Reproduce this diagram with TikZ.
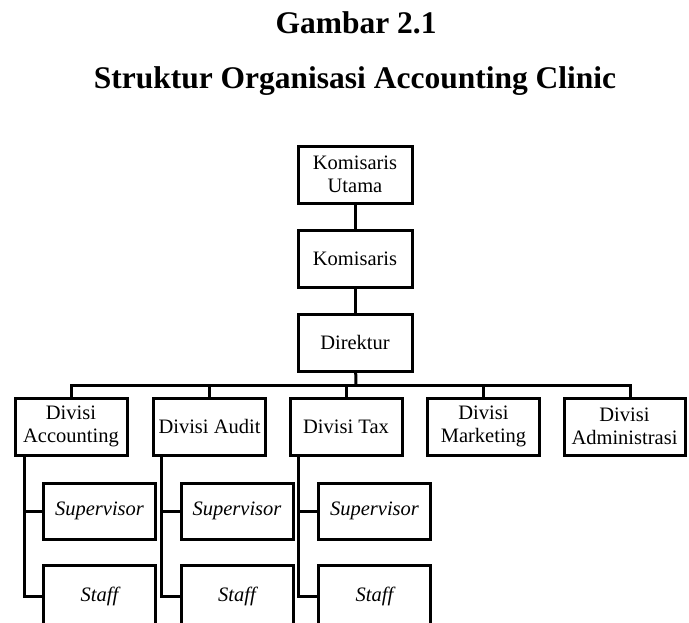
\documentclass[tikz,border=0pt]{standalone}
\usepackage{fontspec}
\setmainfont{Liberation Serif}
\begin{document}
\begin{tikzpicture}
    [
    x=1pt,y=-1pt,
    line width=3pt,
    box/.style={rectangle,draw,inner sep=0pt,align=center,font=\fontsize{20.5}{23}\selectfont,minimum width=112pt,minimum height=57pt},
    top/.style={box,minimum width=114pt},
    sub/.style={box,font=\fontsize{20.5}{23}\selectfont\itshape,minimum width=112pt,minimum height=56pt},
    title/.style={anchor=base,font=\fontsize{31.5}{36}\selectfont\bfseries}
    ]
    \useasboundingbox (0,0) rectangle (689,622);
    \node (gambar) at (356,33) [title] {Gambar 2.1};
    \node (judul) at (355,88) [title] {Struktur Organisasi Accounting Clinic};
    \node (ku) at (355,174.5) [top] {Komisaris\\Utama};
    \node (kom) at (355,258.5) [top] {Komisaris};
    \node (dir) at (355,342.5) [top] {Direktur};
    \coordinate (bus) at (356,385);
    \node (acc) at (71,426.5) [box] {Divisi\\Accounting};
    \node (aud) at (209.5,426.5) [box] {Divisi Audit};
    \node (tax) at (346,426.5) [box] {Divisi Tax};
    \node (mkt) at (483.5,426.5) [box] {Divisi\\Marketing};
    \node (adm) at (624.5,426.5) [box,minimum width=121pt] {Divisi\\Administrasi};
    \node (accsup) at (99.5,511) [sub] {Supervisor};
    \node (accstf) at (99.5,596) [sub,minimum height=62pt] {Staff};
    \node (audsup) at (237,511) [sub] {Supervisor};
    \node (audstf) at (237,596) [sub,minimum height=62pt] {Staff};
    \node (taxsup) at (374.5,511) [sub] {Supervisor};
    \node (taxstf) at (374.5,596) [sub,minimum height=62pt] {Staff};
    \draw (ku) to (kom);
    \draw (kom) to (dir);
    \draw (dir) to (bus);
    \draw (bus) -| (acc.north);
    \draw (bus) -| (aud.north);
    \draw (bus) -| (tax.north);
    \draw (bus) -| (mkt.north);
    \draw (bus) -| ([xshift=5.5pt]adm.north);
    \draw ([xshift=11pt]acc.south west) |- (accsup.west);
    \draw ([xshift=11pt]acc.south west) |- (accstf.west);
    \draw ([xshift=9pt]aud.south west) |- (audsup.west);
    \draw ([xshift=9pt]aud.south west) |- (audstf.west);
    \draw ([xshift=10pt]tax.south west) |- (taxsup.west);
    \draw ([xshift=10pt]tax.south west) |- (taxstf.west);
  \end{tikzpicture}
\end{document}
